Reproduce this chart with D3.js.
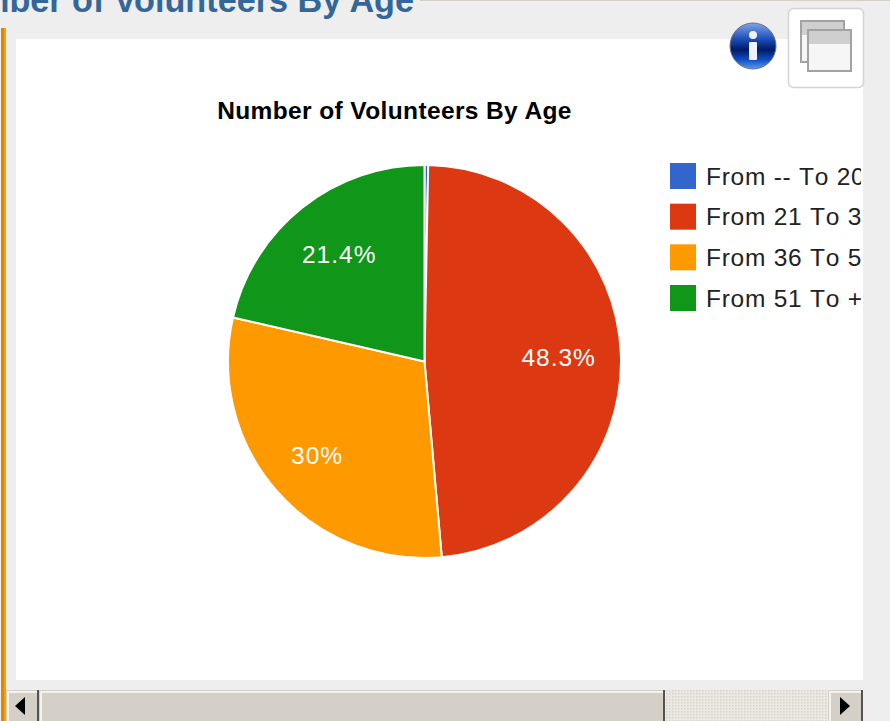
<!DOCTYPE html>
<meta charset="utf-8">
<style>
    html, body { margin: 0; padding: 0; background: #eeeeee; overflow: hidden; }
    svg { display: block; font-family: "Liberation Sans", Arial, sans-serif; }
</style>
<body>
<script src="https://d3js.org/d3.v7.min.js"></script>
<script>
    // values
    const categories = ["From -- To 20", "From 21 To 35", "From 36 To 50", "From 51 To +"];
    const shares = [0.3, 48.3, 30, 21.4];
    const sliceLabels = ["", "48.3%", "30%", "21.4%"];
    const colors = ["#3366cc", "#dc3912", "#ff9900", "#109618"];
    // how far out each slice label sits, as part of the radius
    const labelReach = [0.7, 0.683, 0.725, 0.697];

    const svg = d3.select("body").append("svg").attr("width", 890).attr("height", 721);
    const defs = svg.append("defs");

    // page heading, cut off by the window top and left
    svg.append("text").attr("x", 414).attr("y", 12)
        .attr("text-anchor", "end")
        .attr("font-size", 34.2).attr("font-weight", "bold").attr("fill", "#336699")
        .text("Number of Volunteers By Age");
    svg.append("rect").attr("x", 420).attr("y", 0).attr("width", 470).attr("height", 1).attr("fill", "#d4d0c8");

    // orange stripe and white panel
    svg.append("rect").attr("x", 1).attr("y", 28).attr("width", 5).attr("height", 693).attr("fill", "#f5a010");
    svg.append("rect").attr("x", 1).attr("y", 28).attr("width", 3).attr("height", 693).attr("fill", "#d98a00");
    svg.append("rect").attr("x", 16).attr("y", 39).attr("width", 847).attr("height", 641).attr("fill", "#fff");

    // title
    svg.append("text").attr("x", 394.5).attr("y", 119)
        .attr("text-anchor", "middle")
        .attr("font-size", 24.5).attr("letter-spacing", 0.38).attr("font-weight", "bold").attr("fill", "#000")
        .text("Number of Volunteers By Age");

    // pie
    const pie = d3.pie().sort(null).value(d => d)(shares);
    const r = 196.5;
    const arc = d3.arc().innerRadius(0).outerRadius(r);
    const pieG = svg.append("g").attr("transform", "translate(424.5,361.5)");

    pieG.selectAll("path").data(pie).join("path")
        .attr("d", arc)
        .attr("fill", (d, i) => colors[i])
        .attr("stroke", "#fff")
        .attr("stroke-width", 2);

    pieG.selectAll("text").data(pie).join("text")
        .attr("transform", (d, i) => {
            const a = d3.arc().innerRadius(r * labelReach[i]).outerRadius(r * labelReach[i]);
            return `translate(${a.centroid(d)})`;
        })
        .attr("text-anchor", "middle")
        .attr("dy", "0.36em")
        .attr("font-size", 24.5).attr("letter-spacing", 1).attr("fill", "#fff")
        .text((d, i) => sliceLabels[i]);

    // legend, cut just short of the panel edge
    defs.append("clipPath").attr("id", "panelClip")
        .append("rect").attr("x", 16).attr("y", 39).attr("width", 845).attr("height", 641);
    const y = d3.scalePoint().domain(categories).range([176, 298]);
    svg.append("g").selectAll("rect").data(categories).join("rect")
        .attr("x", 670).attr("y", d => y(d) - 13)
        .attr("width", 26).attr("height", 26)
        .attr("fill", (d, i) => colors[i]);
    svg.append("g").attr("clip-path", "url(#panelClip)")
        .selectAll("text").data(categories).join("text")
        .attr("x", 706).attr("y", d => y(d)).attr("dy", "0.36em")
        .style("font-kerning", "none")
        .attr("font-size", 24.5).attr("letter-spacing", 0.75).attr("fill", "#222").text(d => d);

    // info icon
    const info = defs.append("linearGradient").attr("id", "infoGrad").attr("x1", 0).attr("y1", 0).attr("x2", 0).attr("y2", 1);
    info.append("stop").attr("offset", "0%").attr("stop-color", "#7fa4e8");
    info.append("stop").attr("offset", "35%").attr("stop-color", "#1c4fb8");
    info.append("stop").attr("offset", "58%").attr("stop-color", "#001a66");
    info.append("stop").attr("offset", "80%").attr("stop-color", "#0f4fc8");
    info.append("stop").attr("offset", "100%").attr("stop-color", "#5c9cf0");
    svg.append("circle").attr("cx", 753).attr("cy", 46).attr("r", 23)
        .attr("fill", "url(#infoGrad)").attr("stroke", "#6a6e80").attr("stroke-width", 1);
    svg.append("circle").attr("cx", 753).attr("cy", 35).attr("r", 4).attr("fill", "#eef2fb");
    svg.append("rect").attr("x", 749).attr("y", 42).attr("width", 8).attr("height", 18).attr("rx", 1).attr("fill", "#eef2fb");

    // window button
    svg.append("rect").attr("x", 788.5).attr("y", 8.5).attr("width", 75).attr("height", 79).attr("rx", 5)
        .attr("fill", "#fff").attr("stroke", "#d4d4d4").attr("stroke-width", 1.5);
    [[801, 21], [808, 30]].forEach(p => {
        svg.append("rect").attr("x", p[0]).attr("y", p[1]).attr("width", 43).attr("height", 41)
            .attr("fill", "#f6f6f6").attr("stroke", "#a2a2a2").attr("stroke-width", 2);
        svg.append("rect").attr("x", p[0] + 1).attr("y", p[1] + 1).attr("width", 41).attr("height", 13).attr("fill", "#cfcfcf");
    });

    // horizontal scrollbar
    const dither = defs.append("pattern").attr("id", "dither").attr("width", 3).attr("height", 3).attr("patternUnits", "userSpaceOnUse");
    dither.append("rect").attr("width", 3).attr("height", 3).attr("fill", "#ece9e4");
    dither.append("rect").attr("width", 1.5).attr("height", 1.5).attr("fill", "#d6d2ca");
    svg.append("rect").attr("x", 6).attr("y", 690).attr("width", 857).attr("height", 31).attr("fill", "url(#dither)");

    function bevel(x, w) {
        svg.append("rect").attr("x", x).attr("y", 690).attr("width", w).attr("height", 31).attr("fill", "#d4d0c8");
        svg.append("rect").attr("x", x + 1).attr("y", 691).attr("width", w - 2).attr("height", 2).attr("fill", "#f4f2ee");
        svg.append("rect").attr("x", x + 1).attr("y", 691).attr("width", 2).attr("height", 30).attr("fill", "#f4f2ee");
        svg.append("rect").attr("x", x + w - 2).attr("y", 690).attr("width", 2).attr("height", 31).attr("fill", "#55534f");
    }
    bevel(6, 33);
    bevel(39, 626);
    bevel(828, 35);
    svg.append("path").attr("d", "M25,697V715L15,706Z").attr("fill", "#000");
    svg.append("path").attr("d", "M840,697V715L850,706Z").attr("fill", "#000");
</script>
</body>
